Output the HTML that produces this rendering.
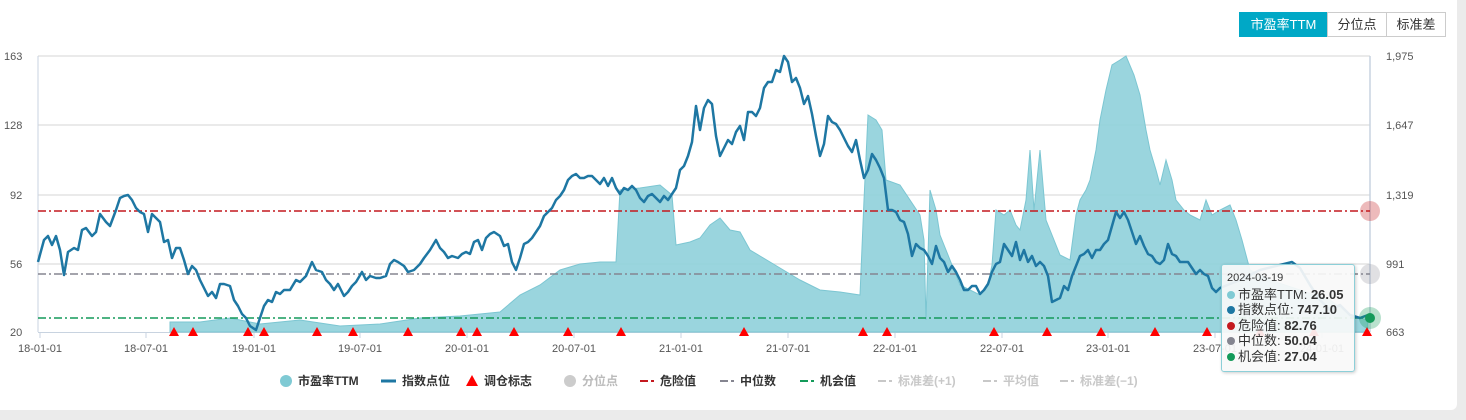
<!DOCTYPE html>
<html><head><meta charset="utf-8"><style>
body{margin:0;width:1466px;height:420px;background:#ebebeb;font-family:"Liberation Sans","Noto Sans CJK SC",sans-serif;overflow:hidden}
#card{position:absolute;left:0;top:0;width:1457px;height:410px;background:#fff;border-radius:0 0 6px 0}
svg{position:absolute;left:0;top:0}
.btn{position:absolute;top:12px;height:23px;line-height:23px;font-size:13px;border:1px solid #ccc;text-align:center;color:#333;background:#fff}
.tip{position:absolute;left:1221px;top:264px;width:132px;height:106px;background:rgba(248,248,248,0.92);border:1px solid #8ccfd8;border-radius:3px;box-shadow:1px 1px 3px rgba(0,0,0,.2);font-size:13px;color:#333}
.tip div{height:15.5px;line-height:15.5px;padding-left:5px;white-space:nowrap}
.tip b{font-weight:bold}
.dot{display:inline-block;width:8px;height:8px;border-radius:50%;margin-right:3px}
</style></head><body>
<div id="card"></div>
<div class="btn" style="left:1239px;width:87px;background:#00a8c6;border-color:#00a8c6;color:#fff">市盈率TTM</div>
<div class="btn" style="left:1327px;width:58px">分位点</div>
<div class="btn" style="left:1386px;width:58px">标准差</div>
<svg width="1466" height="420" font-family="Liberation Sans, Noto Sans CJK SC, sans-serif">
<g stroke="#e3e3e3" stroke-width="1.5">
<line x1="38" y1="56" x2="1370" y2="56"/><line x1="38" y1="125" x2="1370" y2="125"/><line x1="38" y1="195" x2="1370" y2="195"/><line x1="38" y1="264" x2="1370" y2="264"/>
</g>
<line x1="38" y1="56" x2="38" y2="332" stroke="#c8d3e0"/>
<line x1="1370" y1="56" x2="1370" y2="332" stroke="#c8d3e0" stroke-width="1.5"/>
<line x1="38" y1="332.5" x2="1370" y2="332.5" stroke="#c8d3e0"/>
<g stroke="#c8d3e0"><line x1="40" y1="332" x2="40" y2="338"/><line x1="146" y1="332" x2="146" y2="338"/><line x1="254" y1="332" x2="254" y2="338"/><line x1="360" y1="332" x2="360" y2="338"/><line x1="467" y1="332" x2="467" y2="338"/><line x1="574" y1="332" x2="574" y2="338"/><line x1="681" y1="332" x2="681" y2="338"/><line x1="788" y1="332" x2="788" y2="338"/><line x1="895" y1="332" x2="895" y2="338"/><line x1="1002" y1="332" x2="1002" y2="338"/><line x1="1108" y1="332" x2="1108" y2="338"/><line x1="1215" y1="332" x2="1215" y2="338"/><line x1="1322" y1="332" x2="1322" y2="338"/></g>
<g font-size="11" fill="#555">
<text x="4" y="60">163</text><text x="4" y="129">128</text><text x="10" y="199">92</text><text x="10" y="268">56</text><text x="10" y="336">20</text>
<text x="1386" y="60">1,975</text><text x="1386" y="129">1,647</text><text x="1386" y="199">1,319</text><text x="1386" y="268">991</text><text x="1386" y="336">663</text>
<g text-anchor="middle"><text x="40" y="352">18-01-01</text><text x="146" y="352">18-07-01</text><text x="254" y="352">19-01-01</text><text x="360" y="352">19-07-01</text><text x="467" y="352">20-01-01</text><text x="574" y="352">20-07-01</text><text x="681" y="352">21-01-01</text><text x="788" y="352">21-07-01</text><text x="895" y="352">22-01-01</text><text x="1002" y="352">22-07-01</text><text x="1108" y="352">23-01-01</text><text x="1215" y="352">23-07-01</text><text x="1322" y="352">24-01-01</text></g>
</g>
<polygon fill="#8fd0da" fill-opacity="0.9" stroke="#7cc6d2" points="170,332 170,322 200,322 230,318 260,324 300,320 340,326 380,324 420,318 460,316 500,312 520,295 540,285 560,270 580,264 600,262 616,262 620,190 640,188 660,185 672,195 676,245 690,242 700,238 710,225 720,218 730,230 740,232 750,250 760,256 780,268 800,280 820,290 840,292 860,295 864,200 868,115 876,120 882,130 886,180 900,185 910,200 920,215 924,240 926,320 930,190 936,210 940,235 950,260 960,285 980,295 988,285 992,265 996,210 1004,215 1010,210 1016,225 1020,230 1026,200 1030,150 1034,210 1040,150 1046,220 1050,230 1060,255 1070,260 1076,215 1080,200 1086,190 1090,180 1096,150 1100,120 1106,90 1112,65 1120,60 1126,56 1134,75 1140,95 1146,130 1150,150 1156,170 1160,185 1166,160 1172,180 1176,200 1184,210 1190,215 1200,220 1206,200 1212,215 1220,210 1230,205 1236,220 1242,240 1250,270 1270,280 1300,290 1330,300 1350,315 1368,320 1368,332"/>
<line x1="38" y1="211" x2="1370" y2="211" stroke="#c4191f" stroke-width="1.5" stroke-dasharray="8,3,2,3"/>
<line x1="38" y1="274" x2="1370" y2="274" stroke="#858590" stroke-width="1.5" stroke-dasharray="8,3,2,3"/>
<line x1="38" y1="318" x2="1370" y2="318" stroke="#149a5a" stroke-width="1.5" stroke-dasharray="8,3,2,3"/>
<polyline fill="none" stroke="#1e77a3" stroke-width="2.5" stroke-linejoin="round" points="38,262 44,240 48,236 52,245 56,236 60,250 64,275 68,252 74,248 78,250 82,230 86,228 92,236 96,232 100,214 106,222 110,226 116,210 120,198 124,196 128,195 132,200 136,208 140,212 144,214 148,232 152,214 156,218 160,222 164,242 168,240 172,258 176,248 180,248 184,260 188,274 192,266 196,270 200,280 204,288 208,296 212,292 216,298 220,284 224,284 230,286 234,300 238,306 242,314 246,318 250,326 256,330 260,318 264,306 268,300 272,302 276,292 280,294 284,290 290,290 296,280 300,282 306,276 312,262 316,270 322,272 326,280 330,284 334,290 338,284 344,296 348,292 352,286 356,282 362,272 366,280 370,276 376,278 380,278 386,276 390,264 394,260 398,262 404,266 408,272 414,270 420,264 424,258 430,250 436,240 440,248 444,252 448,258 452,256 458,258 462,254 466,252 470,254 474,242 478,240 482,250 486,238 490,234 494,232 500,236 504,246 508,244 512,262 516,270 520,258 524,244 528,242 532,238 536,232 540,226 544,216 548,212 552,208 556,200 560,196 564,190 568,180 572,176 576,174 580,178 584,178 588,176 592,176 596,180 600,184 604,178 608,186 612,178 616,188 620,194 624,188 628,190 632,186 636,190 640,198 644,202 648,196 652,194 656,198 660,202 664,196 668,200 672,194 676,188 680,170 684,166 688,156 692,142 696,106 700,130 704,108 708,100 712,104 716,136 720,156 724,148 728,140 732,144 736,132 740,126 744,140 748,112 752,112 756,116 760,108 764,88 768,82 772,82 776,70 780,72 784,56 788,62 792,82 796,78 800,88 804,104 808,96 812,114 816,136 820,156 824,144 828,116 832,122 836,124 840,130 844,138 848,146 852,152 856,140 860,160 864,178 868,170 872,154 876,160 880,168 884,178 888,210 892,210 896,212 900,220 904,222 908,234 912,256 916,244 920,248 924,250 928,256 932,264 936,246 940,258 944,262 948,272 952,266 956,272 960,280 964,290 968,290 972,286 976,286 980,294 984,290 988,284 992,272 996,264 1000,262 1004,244 1008,250 1012,256 1016,242 1020,260 1024,250 1028,262 1032,256 1036,266 1040,262 1044,266 1048,276 1052,302 1056,300 1060,298 1064,286 1068,290 1072,276 1076,266 1080,256 1084,254 1088,250 1092,258 1096,250 1100,250 1104,244 1108,240 1112,226 1116,212 1120,218 1124,212 1128,220 1132,232 1136,244 1140,236 1144,246 1148,254 1152,256 1156,262 1160,264 1164,260 1168,244 1172,254 1176,256 1180,262 1184,262 1188,262 1192,268 1196,274 1200,270 1204,274 1208,276 1212,288 1216,292 1220,288 1240,280 1260,270 1280,265 1292,262 1300,268 1310,285 1320,300 1330,310 1340,305 1350,315 1360,318 1368,315"/>
<g fill="#f00">
<path d="M174,327l-5,9h10z M193,327l-5,9h10z M248,327l-5,9h10z M264,327l-5,9h10z M317,327l-5,9h10z M353,327l-5,9h10z M408,327l-5,9h10z M461,327l-5,9h10z M477,327l-5,9h10z M514,327l-5,9h10z M568,327l-5,9h10z M621,327l-5,9h10z M744,327l-5,9h10z M863,327l-5,9h10z M887,327l-5,9h10z M994,327l-5,9h10z M1047,327l-5,9h10z M1101,327l-5,9h10z M1155,327l-5,9h10z M1207,327l-5,9h10z M1260,327l-5,9h10z M1314,327l-5,9h10z M1367,327l-5,9h10z"/>
</g>
<circle cx="1370" cy="211" r="10" fill="#c4191f" fill-opacity="0.3"/>
<circle cx="1370" cy="274" r="10" fill="#858590" fill-opacity="0.25"/>
<circle cx="1370" cy="318" r="11" fill="#149a5a" fill-opacity="0.3"/>
<circle cx="1370" cy="318" r="5" fill="#149a5a"/>
<g font-size="12" font-weight="bold" fill="#333">
<circle cx="286" cy="381" r="6" fill="#7fcad4"/><text x="298" y="385">市盈率TTM</text>
<line x1="381" y1="381" x2="396" y2="381" stroke="#1e77a3" stroke-width="3"/><text x="402" y="385">指数点位</text>
<path d="M472,375l-6,11h12z" fill="#f00"/><text x="484" y="385">调仓标志</text>
<circle cx="570" cy="381" r="6" fill="#ccc"/><text x="582" y="385" fill="#bbb">分位点</text>
<path d="M640,381h8M651,381h3" stroke="#c4191f" stroke-width="2"/><text x="660" y="385">危险值</text>
<path d="M720,381h8M731,381h3" stroke="#858590" stroke-width="2"/><text x="740" y="385">中位数</text>
<path d="M800,381h8M811,381h3" stroke="#149a5a" stroke-width="2"/><text x="820" y="385">机会值</text>
<g fill="#c8c8c8" stroke="#c8c8c8"><path d="M878,381h8M889,381h3" stroke-width="2"/><text x="898" y="385" stroke="none">标准差(+1)</text>
<path d="M983,381h8M994,381h3" stroke-width="2"/><text x="1003" y="385" stroke="none">平均值</text>
<path d="M1060,381h8M1071,381h3" stroke-width="2"/><text x="1080" y="385" stroke="none">标准差(−1)</text></g>
</g>
</svg>
<div class="tip">
<div style="margin-top:6px;font-size:11px">2024-03-19</div>
<div><span class="dot" style="background:#7fcad4"></span>市盈率TTM: <b>26.05</b></div>
<div><span class="dot" style="background:#1e77a3"></span>指数点位: <b>747.10</b></div>
<div><span class="dot" style="background:#c4191f"></span>危险值: <b>82.76</b></div>
<div><span class="dot" style="background:#858590"></span>中位数: <b>50.04</b></div>
<div><span class="dot" style="background:#149a5a"></span>机会值: <b>27.04</b></div>
</div>
</body></html>
